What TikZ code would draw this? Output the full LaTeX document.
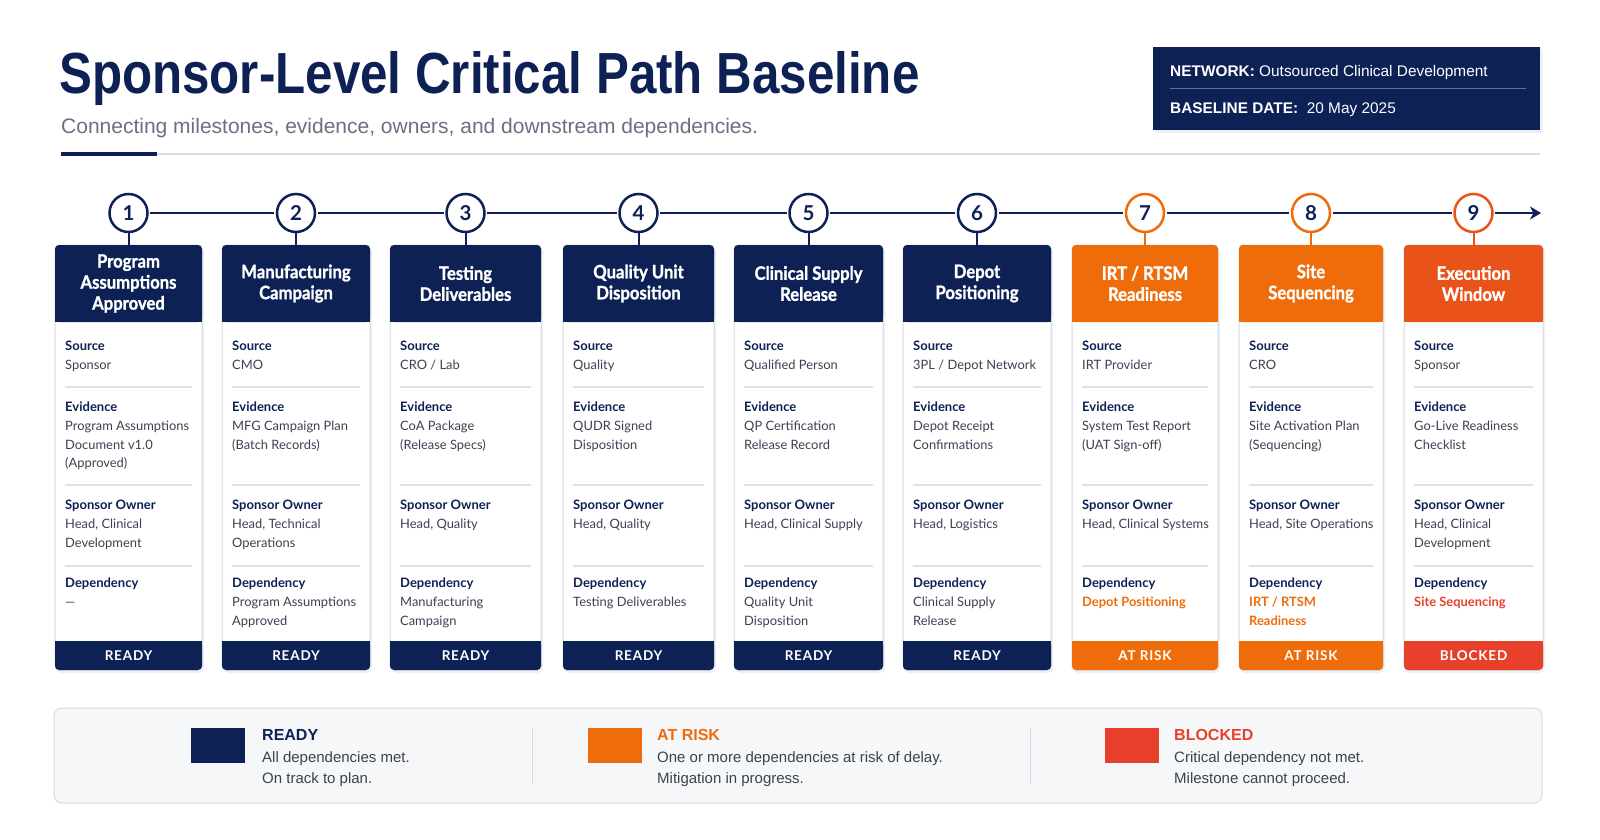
\documentclass[tikz,border=0pt]{standalone}
\usepackage{fontspec}
\usetikzlibrary{arrows.meta}
\setmainfont{Lato}
\newfontfamily\titlefont[FakeStretch=0.85]{Liberation Sans}
\newfontfamily\hfont{Liberation Sans}
\newfontfamily\headfont[FakeStretch=0.9,FakeBold=1.2]{Lato}
\newfontfamily\statusfont[LetterSpace=6]{Lato}
\definecolor{navy}{HTML}{0D2155}
\definecolor{orng}{HTML}{EF6C0A}
\definecolor{hred}{HTML}{E9531A}
\definecolor{bred}{HTML}{E8412B}
\definecolor{valgray}{HTML}{3D4152}
\definecolor{subgray}{HTML}{6B7182}
\definecolor{cardline}{HTML}{D5D9E2}
\definecolor{divc}{HTML}{DEE1E8}
\definecolor{shadowc}{HTML}{EEF0F3}
\definecolor{legbg}{HTML}{F6F7F9}
\definecolor{legline}{HTML}{D9DCE3}
\definecolor{netline}{HTML}{5D6C9A}
\tikzset{
  headbox/.style={inner sep=0pt, minimum height=77pt, align=center, text=white,
    font=\headfont\bfseries\fontsize{18.5}{21}\selectfont},
  statustext/.style={inner sep=0pt, text=white, font=\statusfont\bfseries\fontsize{13.5}{13.5}\selectfont},
  ring/.style={circle, fill=white, line width=2.5pt, minimum size=38pt, inner sep=0pt,
    text=navy, font=\bfseries\fontsize{20.5}{20.5}\selectfont},
  stemline/.style={line width=2pt},
  timeline/.style={navy, line width=2.5pt, shorten >=1.5pt, shorten <=1.5pt},
  divider/.style={divc, line width=1.5pt},
  lab/.style={anchor=base west, inner sep=0pt, text=navy, font=\bfseries\fontsize{13}{13}\selectfont},
  val/.style={anchor=north west, inner sep=0pt, align=left, text=valgray,
    font=\fontsize{12.9}{18.5}\selectfont},
  depplain/.style={},
  deprisk/.style={text=orng, font=\bfseries\fontsize{12.9}{18.5}\selectfont},
  depblock/.style={text=bred, font=\bfseries\fontsize{12.9}{18.5}\selectfont},
  lsq/.style={minimum width=54pt, minimum height=35pt, inner sep=0pt},
  ltitle/.style={anchor=base west, inner sep=0pt, font=\hfont\bfseries\fontsize{16}{16}\selectfont},
  ldesc/.style={anchor=north west, inner sep=0pt, align=left, text=valgray,
    font=\hfont\fontsize{15}{21}\selectfont},
  lsep/.style={legline, line width=1pt}
}
% #1 number, #2 xl, #3 xr, #4 head colour, #5 ring colour, #6 bar colour, #7 status, #8 title
\newcommand\cardframe[8]{%
  \pgfmathsetmacro\cx{(#2+#3)/2}
  \fill[shadowc, rounded corners=5pt] (#2+1,247) rectangle (#3+2,673);
  \draw[cardline, line width=1pt, fill=white, rounded corners=4pt] (#2,245) rectangle (#3,670);
  \fill[#4, rounded corners=4pt] (#2,245) rectangle (#3,322);
  \fill[#4] (#2,300) rectangle (#3,322);
  \fill[#6, rounded corners=4pt] (#2,641) rectangle (#3,670);
  \fill[#6] (#2,641) rectangle (#3,655);
  \node[headbox, minimum width={#3-#2}] (h#1) at (\cx,283.5) {#8};
  \node[statustext] (s#1) at (\cx,656) {#7};
  \node[ring, draw=#5] (c#1) at (\cx,213) {#1};
  \draw[stemline, draw=#5] (c#1) -- (h#1);
  \foreach \yy in {387,485,566} \draw[divider] (#2+10,\yy) -- (#3-10,\yy);
}
% #1 number, #2 xl, #3 source, #4 evidence, #5 owner, #6 dependency, #7 dependency style
\newcommand\cardbody[7]{%
  \node[lab] (srcl#1) at (#2+10,350.7) {Source};
  \node[val] (srcv#1) at (#2+10,360) {\vphantom{Ad}#3};
  \node[lab] (evl#1) at (#2+10,411.7) {Evidence};
  \node[val] (evv#1) at (#2+10,421) {\vphantom{Ad}#4};
  \node[lab] (owl#1) at (#2+10,509.7) {Sponsor Owner};
  \node[val] (owv#1) at (#2+10,519) {\vphantom{Ad}#5};
  \node[lab] (dpl#1) at (#2+10,587.7) {Dependency};
  \node[val, #7] (dpv#1) at (#2+10,597) {\vphantom{Ad}#6};
}
\begin{document}
\begin{tikzpicture}[x=1pt,y=-1pt]
\useasboundingbox (0,0) rectangle (1600,840);
\fill[white] (0,0) rectangle (1600,840);

% title block
\node[anchor=base west, inner sep=0pt, text=navy, font=\titlefont\bfseries\fontsize{58}{58}\selectfont] (title) at (59,94) {Sponsor-Level Critical Path Baseline};
\node[anchor=base west, inner sep=0pt, text=subgray, font=\hfont\fontsize{21}{21}\selectfont] (subtitle) at (61,133) {Connecting milestones, evidence, owners, and downstream dependencies.};
\draw[legline, line width=1.2pt] (61,154) -- (1540,154);
\draw[navy, line width=4pt] (61,154) -- (157,154);

% network box
\fill[shadowc] (1155,49) rectangle (1543,133);
\fill[navy] (1153,47) rectangle (1540,130);
\node[anchor=base west, inner sep=0pt, text=white, font=\hfont\fontsize{15.4}{15.4}\selectfont] (net) at (1170,76.5) {\textbf{NETWORK:} Outsourced Clinical Development};
\draw[netline, line width=1pt] (1170,89) -- (1526,89);
\node[anchor=base west, inner sep=0pt, text=white, font=\hfont\fontsize{15.4}{15.4}\selectfont] (bdate) at (1170,113.5) {\textbf{BASELINE DATE:}\ \ 20 May 2025};

% cards
\cardframe{1}{55}{202}{navy}{navy}{navy}{READY}{Program\\Assumptions\\Approved}
\cardbody{1}{55}{Sponsor}{Program Assumptions\\Document v1.0\\(Approved)}{Head, Clinical\\Development}{—}{depplain}
\cardframe{2}{222}{370}{navy}{navy}{navy}{READY}{Manufacturing\\Campaign}
\cardbody{2}{222}{CMO}{MFG Campaign Plan\\(Batch Records)}{Head, Technical\\Operations}{Program Assumptions\\Approved}{depplain}
\cardframe{3}{390}{541}{navy}{navy}{navy}{READY}{Testing\\Deliverables}
\cardbody{3}{390}{CRO / Lab}{CoA Package\\(Release Specs)}{Head, Quality}{Manufacturing\\Campaign}{depplain}
\cardframe{4}{563}{714}{navy}{navy}{navy}{READY}{Quality Unit\\Disposition}
\cardbody{4}{563}{Quality}{QUDR Signed\\Disposition}{Head, Quality}{Testing Deliverables}{depplain}
\cardframe{5}{734}{883}{navy}{navy}{navy}{READY}{Clinical Supply\\Release}
\cardbody{5}{734}{Qualified Person}{QP Certification\\Release Record}{Head, Clinical Supply}{Quality Unit\\Disposition}{depplain}
\cardframe{6}{903}{1051}{navy}{navy}{navy}{READY}{Depot\\Positioning}
\cardbody{6}{903}{3PL / Depot Network}{Depot Receipt\\Confirmations}{Head, Logistics}{Clinical Supply\\Release}{depplain}
\cardframe{7}{1072}{1218}{orng}{orng}{orng}{AT RISK}{IRT / RTSM\\Readiness}
\cardbody{7}{1072}{IRT Provider}{System Test Report\\(UAT Sign-off)}{Head, Clinical Systems}{Depot Positioning}{deprisk}
\cardframe{8}{1239}{1383}{orng}{orng}{orng}{AT RISK}{Site\\Sequencing}
\cardbody{8}{1239}{CRO}{Site Activation Plan\\(Sequencing)}{Head, Site Operations}{IRT / RTSM\\Readiness}{deprisk}
\cardframe{9}{1404}{1543}{hred}{hred}{bred}{BLOCKED}{Execution\\Window}
\cardbody{9}{1404}{Sponsor}{Go-Live Readiness\\Checklist}{Head, Clinical\\Development}{Site Sequencing}{depblock}

% timeline
\foreach \a/\b in {1/2,2/3,3/4,4/5,5/6,6/7,7/8,8/9}
  \draw[timeline] (c\a) -- (c\b);
\coordinate (tlend) at (1541,213);
\draw[timeline, shorten >=0pt, -{Stealth[length=11pt,width=13pt,inset=3.5pt]}] (c9) -- (tlend);

% legend
\draw[legline, line width=1pt, fill=legbg, rounded corners=8pt] (54,708) rectangle (1542,803);
\node[lsq, fill=navy] (lq1) at (218,745.5) {};
\node[ltitle, text=navy] (lt1) at (262,740.7) {READY};
\node[ldesc] (ld1) at (262,751.5) {\vphantom{Ad}All dependencies met.\\On track to plan.};
\draw[lsep] (532,728) -- (532,784);
\node[lsq, fill=orng] (lq2) at (614.5,745.5) {};
\node[ltitle, text=orng] (lt2) at (657,740.7) {AT RISK};
\node[ldesc] (ld2) at (657,751.5) {\vphantom{Ad}One or more dependencies at risk of delay.\\Mitigation in progress.};
\draw[lsep] (1030,728) -- (1030,784);
\node[lsq, fill=bred] (lq3) at (1131.5,745.5) {};
\node[ltitle, text=bred] (lt3) at (1174,740.7) {BLOCKED};
\node[ldesc] (ld3) at (1174,751.5) {\vphantom{Ad}Critical dependency not met.\\Milestone cannot proceed.};
\end{tikzpicture}
\end{document}
